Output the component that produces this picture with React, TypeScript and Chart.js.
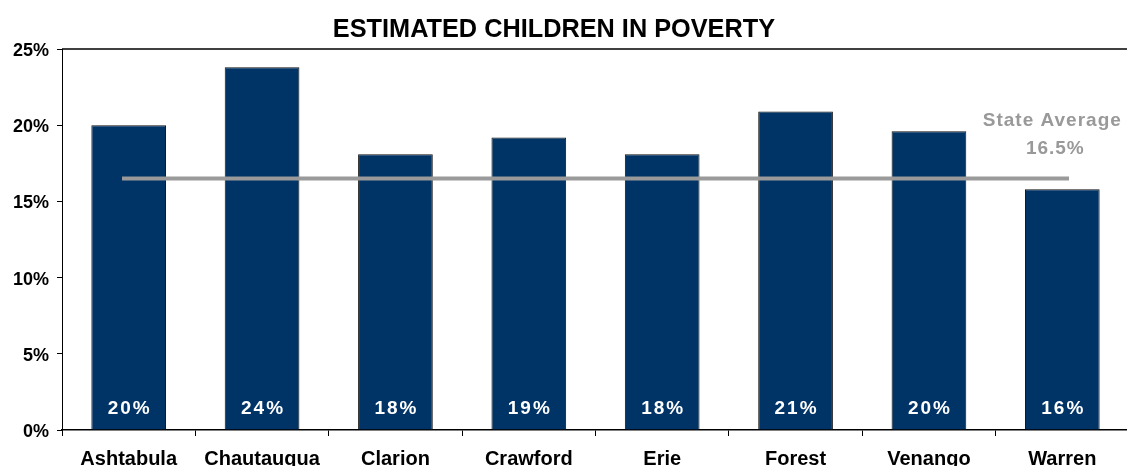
import React, { useEffect, useRef } from "react";
import { Chart, registerables } from "chart.js";

Chart.register(...registerables);

const chartTitle = "ESTIMATED CHILDREN IN POVERTY   ";
const categories = ["Ashtabula", "Chautauqua", "Clarion", "Crawford", "Erie", "Forest", "Venango", "Warren"];
const povertyRates = [20.0, 23.8, 18.1, 19.2, 18.1, 20.9, 19.6, 15.8];
const stateAverage = 16.5;
const stateAverageLines = ["State Average", "16.5%"];
const yMin = 0;
const yMax = 25;
const yStep = 5;

const FONT = "'Liberation Sans', Arial, sans-serif";

const overlayPlugin = {
  id: "overlay",
  afterDatasetsDraw(chart: any) {
    const { ctx, chartArea, scales } = chart;
    const x = scales.x;
    const y = scales.y;
    ctx.save();
    // top frame line
    ctx.strokeStyle = "#000";
    ctx.lineWidth = 1.5;
    ctx.beginPath();
    ctx.moveTo(chartArea.left, chartArea.top);
    ctx.lineTo(chartArea.right, chartArea.top);
    ctx.stroke();

    // state average line
    const yAvg = y.getPixelForValue(stateAverage);
    const cat = x.getPixelForValue(1) - x.getPixelForValue(0);
    const x0 = x.getPixelForValue(0) - cat * 0.05;
    const x1 = x.getPixelForValue(categories.length - 1) + cat * 0.05;
    ctx.strokeStyle = "#9a9a9a";
    ctx.lineWidth = 4;
    ctx.beginPath();
    ctx.moveTo(x0, yAvg);
    ctx.lineTo(x1, yAvg);
    ctx.stroke();

    // bar value labels
    const meta = chart.getDatasetMeta(0);
    const base = y.getPixelForValue(0);
    ctx.fillStyle = "#ffffff";
    ctx.font = `bold 19px ${FONT}`;
    (ctx as any).letterSpacing = "2px";
    ctx.textAlign = "center";
    ctx.textBaseline = "middle";
    meta.data.forEach((bar: any, i: number) => {
      ctx.fillText(Math.round(povertyRates[i]) + "%", bar.x + 1, base - 21);
    });

    // state average label
    ctx.fillStyle = "#999999";
    ctx.font = `bold 19px ${FONT}`;
    (ctx as any).letterSpacing = "1px";
    const lx = x.getPixelForValue(categories.length - 1) - 10;
    ctx.fillText(stateAverageLines[0], lx, yAvg - 58);
    ctx.fillText(stateAverageLines[1], lx + 3, yAvg - 30);
    (ctx as any).letterSpacing = "0px";
    ctx.restore();
  },
};

export default function App() {
  const canvasRef = useRef<HTMLCanvasElement | null>(null);

  useEffect(() => {
    if (!canvasRef.current) return;
    const chart = new Chart(canvasRef.current, {
      type: "bar",
      data: {
        labels: categories,
        datasets: [
          {
            data: povertyRates,
            backgroundColor: "#003366",
            borderColor: "#111111",
            borderWidth: 1,
            barPercentage: 0.56,
            categoryPercentage: 1,
          },
        ],
      },
      options: {
        animation: false,
        responsive: true,
        maintainAspectRatio: false,
        layout: { padding: 0 },
        plugins: {
          legend: { display: false },
          tooltip: { enabled: false },
          title: {
            display: true,
            text: chartTitle,
            color: "#000",
            font: { family: FONT, size: 25.3, weight: "bold", lineHeight: 1 },
            padding: { top: 17, bottom: 6.7 },
          },
        },
        scales: {
          x: {
            grid: {
              display: true,
              drawOnChartArea: false,
              drawTicks: true,
              tickLength: 6,
              color: "#000",
              offset: true,
            },
            border: { display: true, color: "#000", width: 1.5 },
            ticks: {
              color: "#000",
              font: { family: FONT, size: 20, weight: "bold" },
              padding: 11,
              maxRotation: 0,
              autoSkip: false,
            },
            afterFit(scale: any) {
              scale.height = 36;
            },
          },
          y: {
            min: yMin,
            max: yMax,
            grid: {
              display: true,
              drawOnChartArea: false,
              drawTicks: true,
              tickLength: 5,
              color: "#000",
            },
            border: { display: true, color: "#000", width: 1 },
            ticks: {
              stepSize: yStep,
              color: "#000",
              font: { family: FONT, size: 18, weight: "bold" },
              padding: 8,
              labelOffset: 2,
              callback: (v: any) => v + "%",
            },
            afterFit(scale: any) {
              scale.width = 62;
            },
          },
        },
      },
      plugins: [overlayPlugin],
    });
    return () => chart.destroy();
  }, []);

  return (
    <div style={{ position: "fixed", left: 0, top: 0, width: 1129, height: 466, background: "#fff" }}>
      <canvas ref={canvasRef} />
    </div>
  );
}
